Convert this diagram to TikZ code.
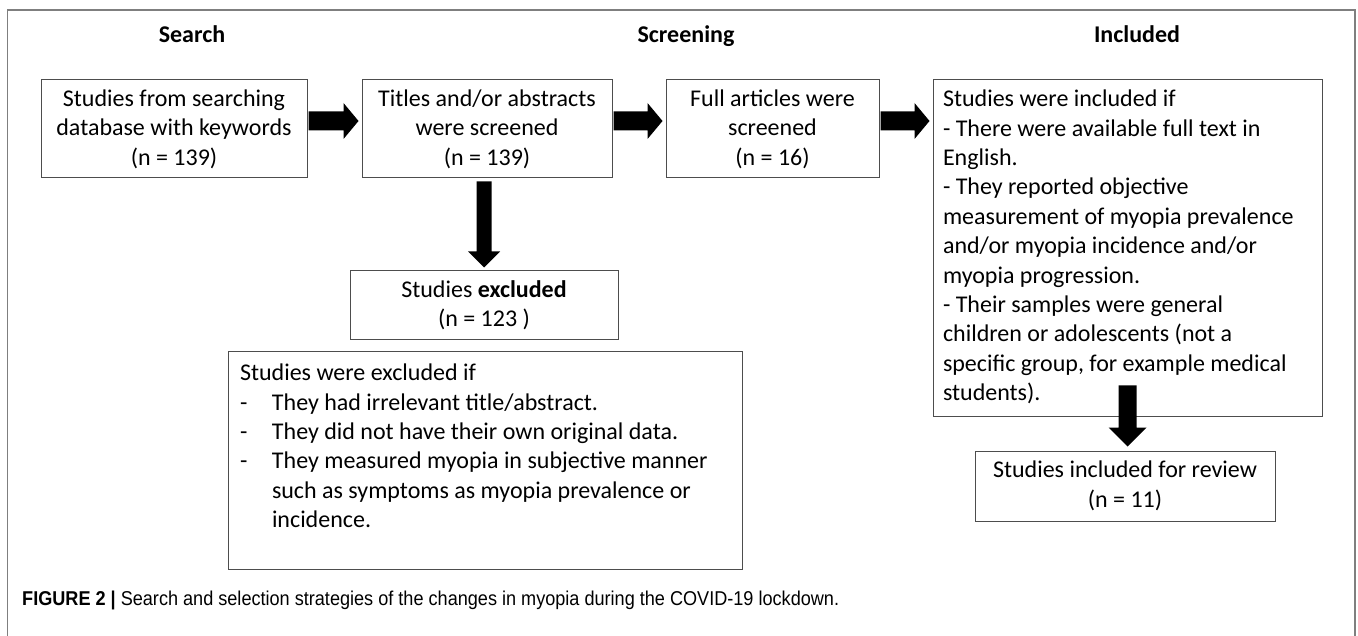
\documentclass[tikz,border=0pt]{standalone}
\usepackage{fontspec}
\setmainfont{Carlito}
\newfontfamily\capfont[FakeStretch=0.905]{Liberation Sans}
\usetikzlibrary{calc}
\definecolor{boxgray}{HTML}{4D4D4D}
\definecolor{framegray}{HTML}{7F7F7F}
\newcommand\hblockarrow[2]{%
  \fill[black] let \p1=([yshift=8pt]#1.east), \p2=([yshift=8pt]#2.west) in
    (\x1+1pt,\y1+9.5pt) -- (\x2-18pt,\y1+9.5pt) -- (\x2-18pt,\y1+18pt) -- (\x2-3pt,\y1)
    -- (\x2-18pt,\y1-18pt) -- (\x2-18pt,\y1-9.5pt) -- (\x1+1pt,\y1-9.5pt) -- cycle;}
\newcommand\boxfont{\fontsize{24}{29.4}\selectfont}
\begin{document}
\begin{tikzpicture}[x=1pt,y=-1pt,
  box/.style={draw=boxgray, line width=1pt, inner sep=0pt, align=center,
    font=\boxfont},
  head/.style={inner sep=0pt, anchor=base, font=\fontsize{24}{28}\selectfont\bfseries}]
\useasboundingbox (0,0) rectangle (1358,636);
\draw[framegray, line width=1.5pt] (7.5,636) -- (7.5,10) -- (1355,10) -- (1355,636);

\node[head] (hsearch) at (192,43) {Search};
\node[head] (hscreen) at (686,43) {Screening};
\node[head] (hincl) at (1137,43) {Included};

\node[box, minimum width=266pt, minimum height=98pt] (b1) at (174,129)
  {Studies from searching\\database with keywords\\(n = 139)};
\node[box, minimum width=250pt, minimum height=98pt] (b2) at (487,129)
  {Titles and/or abstracts\\were screened\\(n = 139)};
\node[box, minimum width=213pt, minimum height=98pt] (b3) at (772.5,129)
  {Full articles were\\screened\\(n = 16)};
\node[box, align=left] (b4) at (1127.5,248)
  {\begin{minipage}[c][336pt][t]{389pt}\boxfont\raggedright
   \vspace*{10pt}
   \hspace*{10pt}Studies were included if\\
   \hspace*{10pt}- There were available full text in\\
   \hspace*{10pt}English.\\
   \hspace*{10pt}- They reported objective\\
   \hspace*{10pt}measurement of myopia prevalence\\
   \hspace*{10pt}and/or myopia incidence and/or\\
   \hspace*{10pt}myopia progression.\\
   \hspace*{10pt}- Their samples were general\\
   \hspace*{10pt}children or adolescents (not a\\
   \hspace*{10pt}specific group, for example medical\\
   \hspace*{10pt}students).
   \end{minipage}};
\node[box, minimum width=268pt, minimum height=69pt] (b2x) at (484,305.5)
  {Studies \textbf{excluded}\\(n = 123 )};
\node[box, align=left] (ex) at (485,460.5)
  {\begin{minipage}[c][217pt][t]{514pt}\boxfont\raggedright
   \vspace*{12pt}
   \hspace*{12pt}Studies were excluded if\\
   \hspace*{12pt}\makebox[32pt][l]{-}They had irrelevant title/abstract.\\
   \hspace*{12pt}\makebox[32pt][l]{-}They did not have their own original data.\\
   \hspace*{12pt}\makebox[32pt][l]{-}They measured myopia in subjective manner\\
   \hspace*{44pt}such as symptoms as myopia prevalence or\\
   \hspace*{44pt}incidence.
   \end{minipage}};
\node[box, minimum width=300pt, minimum height=70pt] (b5) at (1125,486)
  {Studies included for review\\(n = 11)};

\hblockarrow{b1}{b2}
\hblockarrow{b2}{b3}
\hblockarrow{b3}{b4}

\fill[black] let \p1=(b2.south), \p2=(b2x.north) in
  (\x2-7.5pt,\y1-3pt) -- (\x2-7.5pt,\y2+19pt) -- (\x2-16pt,\y2+19pt) -- (\x2,\y2+3pt)
  -- (\x2+16pt,\y2+19pt) -- (\x2+7.5pt,\y2+19pt) -- (\x2+7.5pt,\y1-3pt) -- cycle;
\fill[black] let \p1=(b4.south), \p2=(b5.north) in
  (\x1-9pt,\y1+31pt) -- (\x1-9pt,\y2+23pt) -- (\x1-19pt,\y2+23pt) -- (\x1,\y2+4pt)
  -- (\x1+19pt,\y2+23pt) -- (\x1+9pt,\y2+23pt) -- (\x1+9pt,\y1+31pt) -- cycle;

\node[anchor=west, inner sep=0pt] (cap) at (22,600)
  {\capfont\fontsize{20}{24}\selectfont\textbf{FIGURE 2 |} Search and selection strategies of the changes in myopia during the COVID-19 lockdown.};
\end{tikzpicture}
\end{document}
